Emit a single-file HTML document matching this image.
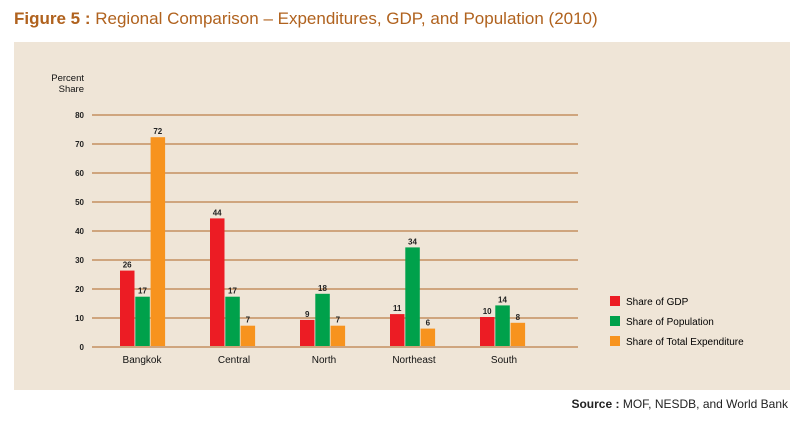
<!DOCTYPE html>
<html><head><meta charset="utf-8"><style>
body{margin:0;width:800px;height:426px;background:#fff;font-family:"Liberation Sans",sans-serif;position:relative;overflow:hidden}
.t{position:absolute;left:14px;top:9px;font-size:17px;color:#b0621e;white-space:nowrap}
.p{position:absolute;left:14px;top:42px;width:776px;height:348px;background:#efe5d7}
.s{position:absolute;right:12px;top:397px;font-size:12px;color:#222}
</style></head><body>
<div class="t"><b>Figure 5 :</b> Regional Comparison – Expenditures, GDP, and Population (2010)</div>
<div class="p"></div>
<svg width="800" height="426" style="position:absolute;left:0;top:0" font-family="Liberation Sans, sans-serif">
<text x="84" y="81" font-size="9.5" text-anchor="end" fill="#111">Percent</text>
<text x="84" y="92" font-size="9.5" text-anchor="end" fill="#111">Share</text>
<g stroke="#cfa57e" stroke-width="2">
<line x1="92" x2="578" y1="347" y2="347"/><line x1="92" x2="578" y1="318" y2="318"/><line x1="92" x2="578" y1="289" y2="289"/><line x1="92" x2="578" y1="260" y2="260"/><line x1="92" x2="578" y1="231" y2="231"/><line x1="92" x2="578" y1="202" y2="202"/><line x1="92" x2="578" y1="173" y2="173"/><line x1="92" x2="578" y1="144" y2="144"/><line x1="92" x2="578" y1="115" y2="115"/>
</g>
<g font-size="8" fill="#222" text-anchor="end" font-weight="bold">
<text x="84" y="350">0</text><text x="84" y="321">10</text><text x="84" y="292">20</text><text x="84" y="263">30</text><text x="84" y="234">40</text><text x="84" y="205">50</text><text x="84" y="176">60</text><text x="84" y="147">70</text><text x="84" y="118">80</text>
</g>
<g>
<rect x="120" y="270.6" width="14.5" height="75.4" fill="#ec1c24"/>
<rect x="135.3" y="296.7" width="14.5" height="49.3" fill="#00a14b"/>
<rect x="150.6" y="137.2" width="14.5" height="208.8" fill="#f7931e"/>
<rect x="210" y="218.4" width="14.5" height="127.6" fill="#ec1c24"/>
<rect x="225.3" y="296.7" width="14.5" height="49.3" fill="#00a14b"/>
<rect x="240.6" y="325.7" width="14.5" height="20.3" fill="#f7931e"/>
<rect x="300" y="319.9" width="14.5" height="26.1" fill="#ec1c24"/>
<rect x="315.3" y="293.8" width="14.5" height="52.2" fill="#00a14b"/>
<rect x="330.6" y="325.7" width="14.5" height="20.3" fill="#f7931e"/>
<rect x="390" y="314.1" width="14.5" height="31.9" fill="#ec1c24"/>
<rect x="405.3" y="247.4" width="14.5" height="98.6" fill="#00a14b"/>
<rect x="420.6" y="328.6" width="14.5" height="17.4" fill="#f7931e"/>
<rect x="480" y="317" width="14.5" height="29" fill="#ec1c24"/>
<rect x="495.3" y="305.4" width="14.5" height="40.6" fill="#00a14b"/>
<rect x="510.6" y="322.8" width="14.5" height="23.2" fill="#f7931e"/>
</g>
<g font-size="8" font-weight="bold" text-anchor="middle" fill="#222">
<text x="127.2" y="267.6">26</text><text x="142.5" y="293.7">17</text><text x="157.8" y="134.2">72</text>
<text x="217.2" y="215.4">44</text><text x="232.5" y="293.7">17</text><text x="247.8" y="322.7">7</text>
<text x="307.2" y="316.9">9</text><text x="322.5" y="290.8">18</text><text x="337.8" y="322.7">7</text>
<text x="397.2" y="311.1">11</text><text x="412.5" y="244.4">34</text><text x="427.8" y="325.6">6</text>
<text x="487.2" y="314">10</text><text x="502.5" y="302.4">14</text><text x="517.8" y="319.8">8</text>
</g>
<g font-size="10" fill="#111" text-anchor="middle">
<text x="142" y="363">Bangkok</text><text x="234" y="363">Central</text><text x="324" y="363">North</text><text x="414" y="363">Northeast</text><text x="504" y="363">South</text>
</g>
<rect x="610" y="296" width="10" height="10" fill="#ec1c24"/><text x="626" y="305" font-size="10">Share of GDP</text>
<rect x="610" y="316" width="10" height="10" fill="#00a14b"/><text x="626" y="325" font-size="10">Share of Population</text>
<rect x="610" y="336" width="10" height="10" fill="#f7931e"/><text x="626" y="345" font-size="10">Share of Total Expenditure</text>
</svg>
<div class="s"><b>Source :</b> MOF, NESDB, and World Bank</div>
</body></html>
